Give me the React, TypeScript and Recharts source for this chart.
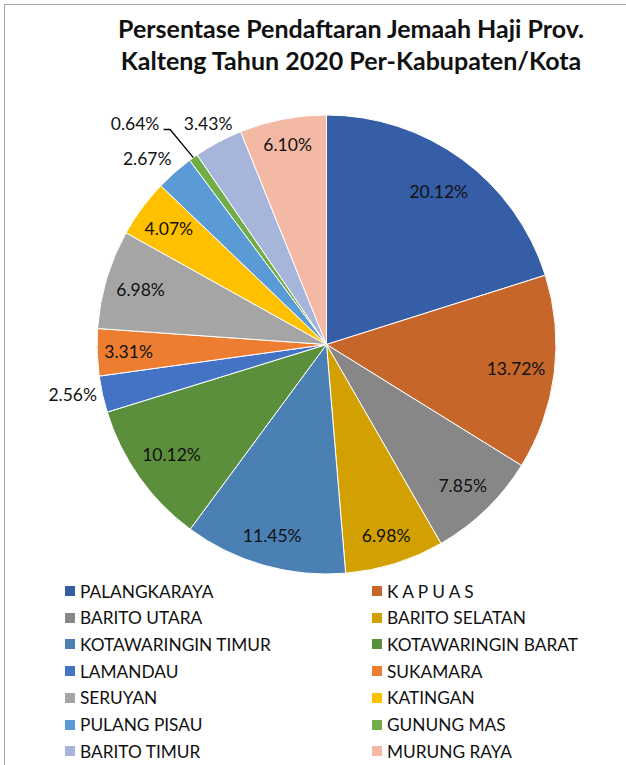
import React from 'react';
import { PieChart, Pie, Cell, Legend } from 'recharts';

const regions = [
  'PALANGKARAYA',
  'K A P U A S',
  'BARITO UTARA',
  'BARITO SELATAN',
  'KOTAWARINGIN TIMUR',
  'KOTAWARINGIN BARAT',
  'LAMANDAU',
  'SUKAMARA',
  'SERUYAN',
  'KATINGAN',
  'PULANG PISAU',
  'GUNUNG MAS',
  'BARITO TIMUR',
  'MURUNG RAYA',
];

const shares = [20.12, 13.72, 7.85, 6.98, 11.45, 10.12, 2.56, 3.31, 6.98, 4.07, 2.67, 0.64, 3.43, 6.1];

const colors = [
  '#365EA6',
  '#C6662B',
  '#878787',
  '#D2A000',
  '#4A80B4',
  '#5B8F3B',
  '#4472C4',
  '#ED7D31',
  '#A5A5A5',
  '#FFC000',
  '#5B9BD5',
  '#70AD47',
  '#A8B5DA',
  '#F4B9A4',
];

const titleLines = ['Persentase Pendaftaran Jemaah Haji Prov.', 'Kalteng Tahun 2020 Per-Kabupaten/Kota'];

const data = regions.map((name, i) => ({ name, value: shares[i] }));

const FONT = 'Lato, "Open Sans", sans-serif';
const RAD = Math.PI / 180;

// inside label radius in px, per slice
const insideR: Record<number, number> = {
  0: 190,
  1: 191,
  2: 196,
  3: 200,
  4: 199,
  5: 190,
  7: 198,
  8: 194,
  9: 196,
  13: 204,
};

// label placement for outside labels: offset from outer radius and angle tweak
const outside: Record<number, { dr: number; da: number; anchor: 'start' | 'middle' | 'end'; dx?: number }> = {
  6: { dr: 2.5, da: 0, anchor: 'end', dx: -3 },
  10: { dr: 28.5, da: 2.6, anchor: 'middle' },
  11: { dr: 62.5, da: 5.5, anchor: 'middle' },
  12: { dr: 21.5, da: 0, anchor: 'middle' },
};

const pt = (cx: number, cy: number, r: number, a: number) => ({
  x: cx + r * Math.cos(-a * RAD),
  y: cy + r * Math.sin(-a * RAD),
});

const renderLabel = (props: any) => {
  const { cx, cy, midAngle, outerRadius, index, value } = props;
  const text = `${Number(value).toFixed(2)}%`;
  const o = outside[index];
  let x: number;
  let y: number;
  let anchor: 'start' | 'middle' | 'end' = 'middle';
  if (o) {
    const p = pt(cx, cy, outerRadius + o.dr, midAngle + o.da);
    x = p.x + (o.dx || 0);
    y = p.y;
    anchor = o.anchor;
  } else {
    const p = pt(cx, cy, insideR[index] ?? outerRadius * 0.845, midAngle);
    x = p.x;
    y = p.y;
  }
  const edge = pt(cx, cy, outerRadius, midAngle);
  return (
    <g key={`lbl-${index}`}>
      {index === 11 && (
        <polyline
          points={`${edge.x},${edge.y} ${x + 35},${y + 5.5} ${x + 28.5},${y + 5.5}`}
          fill="none"
          stroke="#000"
          strokeWidth={1.3}
        />
      )}
      <text
        x={x}
        y={y}
        textAnchor={anchor}
        dominantBaseline="central"
        fontFamily={FONT}
        fontSize={17.5}
        fill="#111"
      >
        {text}
      </text>
    </g>
  );
};

const renderLegend = (props: any) => {
  const payload = [...(props.payload || [])].sort(
    (a: any, b: any) => regions.indexOf(a.value) - regions.indexOf(b.value)
  );
  return (
    <div style={{ position: 'relative', width: 626, height: 185 }}>
      {payload.map((entry: any, i: number) => {
        const col = i % 2;
        const row = Math.floor(i / 2);
        const left = col === 0 ? 65 : 372;
        const top = row * 26.7;
        return (
          <div
            key={`leg-${i}`}
            style={{
              position: 'absolute',
              left,
              top,
              height: 26,
              display: 'flex',
              alignItems: 'center',
              whiteSpace: 'nowrap',
              fontFamily: FONT,
              fontSize: 17.3,
              color: '#111',
            }}
          >
            <span style={{ display: 'inline-block', width: 10, height: 10, background: entry.color, marginRight: 5 }} />
            <span>{entry.value}</span>
          </div>
        );
      })}
    </div>
  );
};

export default function App() {
  return (
    <div style={{ position: 'absolute', left: 0, top: 0, width: 626, height: 765, background: '#fff', overflow: 'hidden' }}>
      <div
        style={{
          position: 'absolute',
          left: 4,
          top: 4,
          width: 640,
          height: 780,
          borderLeft: '1px solid #A6A6A6',
          borderTop: '1px solid #A6A6A6',
        }}
      />
      <div
        style={{
          position: 'absolute',
          left: 0,
          top: 12,
          width: 702,
          textAlign: 'center',
          fontFamily: FONT,
          fontWeight: 700,
          fontSize: 25,
          lineHeight: '32px',
          color: '#111',
        }}
      >
        {titleLines.map((l) => (
          <div key={l}>{l}</div>
        ))}
      </div>
      <div style={{ position: 'absolute', left: 0, top: 0 }}>
        <PieChart width={626} height={765} margin={{ top: 0, right: 0, bottom: 0, left: 0 }}>
          <Pie
            data={data}
            dataKey="value"
            nameKey="name"
            cx={326.5}
            cy={344.5}
            outerRadius={229.5}
            startAngle={90}
            endAngle={-270}
            stroke="#fff"
            strokeWidth={1}
            label={renderLabel}
            labelLine={false}
            isAnimationActive={false}
          >
            {data.map((d, i) => (
              <Cell key={d.name} fill={colors[i]} />
            ))}
          </Pie>
          <Legend content={renderLegend} wrapperStyle={{ position: 'absolute', left: 0, top: 578, width: 626 }} />
        </PieChart>
      </div>
    </div>
  );
}
